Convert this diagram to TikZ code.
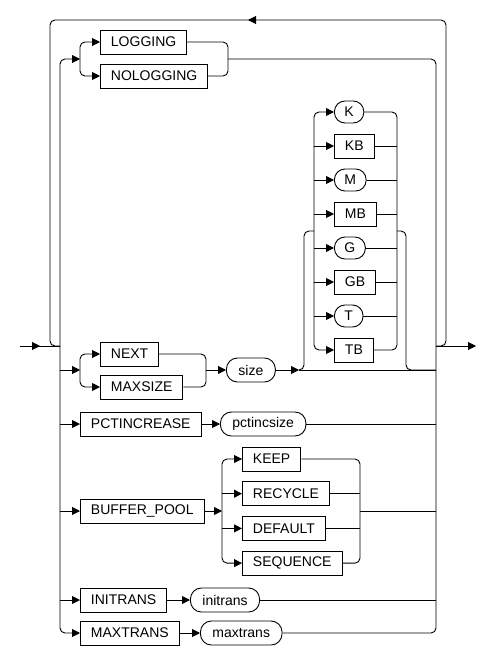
\documentclass[tikz,border=0pt]{standalone}
\usepackage{fontspec}
\setmainfont{Liberation Sans}
\usetikzlibrary{positioning,arrows.meta,decorations.markings}

\begin{document}
\begin{tikzpicture}[x=1pt,y=-1pt,line width=0.9pt,font=\fontsize{14}{16}\selectfont,
  kw/.style={draw,minimum height=24pt,inner xsep=10.5pt,inner ysep=0pt,anchor=west},
  vr/.style={kw,rounded corners=11pt,inner xsep=12pt},
  unitbox/.style={kw,rounded corners=10.5pt,minimum height=22pt,inner xsep=10pt},
  rail/.style={rounded corners=5pt},
  into/.style={-{Triangle[length=8pt,width=8pt]}},
  midarr/.style={postaction={decorate},decoration={markings,
    mark=at position .5 with {\arrow{Triangle[length=8pt,width=8pt]}}}}]
  \useasboundingbox (0,0) rectangle (476,655);
  \coordinate (start) at (20,346);  \coordinate (finish) at (476,346);
  \coordinate (jl) at (60,346);     \coordinate (jr) at (436,346);
  \coordinate (loopL) at (50,20);   \coordinate (loopR) at (446,20);

  \node[kw] (log) at (100,42) {LOGGING};
  \node[kw] (nolog) at (100,76) {NOLOGGING};
  \coordinate (logL) at (80,59);    \coordinate (logR) at (228,59);

  \node[kw] (next) at (100,354) {NEXT};
  \node[kw] (maxsize) at (100,387) {MAXSIZE};
  \coordinate (nxL) at (80,370);    \coordinate (nxR) at (206,370);
  \node[vr] (size) at (226,370) {size};
  \coordinate (szJ) at (299,370);

  \foreach \n/\t/\s [count=\i from 0] in {k/K/unitbox,kb/KB/kw,m/M/unitbox,mb/MB/kw,
    g/G/unitbox,gb/GB/kw,t/T/unitbox,tb/TB/kw}
    \node[\s] (\n) at (334,112+34*\i) {\t};
  \coordinate (uL) at (314,231);    \coordinate (uR) at (397,231);
  \coordinate (uLo) at (304,231);   \coordinate (uRo) at (406,231);

  \node[kw] (pct) at (80,424) {PCTINCREASE};
  \node[vr] (pctsz) at (220,424) {pctincsize};

  \node[kw] (bp) at (80,511) {BUFFER\_POOL};
  \coordinate (bpL) at (222,511);   \coordinate (bpR) at (360,511);
  \foreach \n/\t [count=\i from 0] in {keep/KEEP,recycle/RECYCLE,default/DEFAULT,seq/SEQUENCE}
    \node[kw] (\n) at (242,459+34.7*\i) {\t};

  \node[kw] (ini) at (80,600) {INITRANS};
  \node[vr] (inisz) at (190,600) {initrans};
  \node[kw] (maxt) at (80,633) {MAXTRANS};
  \node[vr] (maxtsz) at (200,633) {maxtrans};

  \draw[midarr] (start) -- (jl);
  \draw[into] (jr) -- (finish);
  \draw[rail,midarr] (jr) -| (loopR) -| (loopL |- jl) -- (jl);

  \draw[rail,into] (jl) |- (logL);
  \draw[rail,into] (logL) |- (log.west);
  \draw[rail,into] (logL) |- (nolog.west);
  \draw[rail] (log.east) -| (logR);
  \draw[rail] (nolog.east) -| (logR);
  \draw[rail] (logR) -| (jr);

  \draw[into] (jl |- nxL) -- (nxL);
  \draw[rail,into] (nxL) |- (next.west);
  \draw[rail,into] (nxL) |- (maxsize.west);
  \draw[rail] (next.east) -| (nxR);
  \draw[rail] (maxsize.east) -| (nxR);
  \draw[into] (nxR) -- (size.west);
  \draw[into] (size.east) -- (szJ);
  \draw (szJ) -- (jr |- szJ);
  \draw[rail] (szJ) -| (uLo) -- (uL);
  \draw[rail] (uR) -- (uRo) |- (jr |- szJ);
  \draw[rail,into] (uL) |- (k.west);
  \draw[rail,into] (uL) |- (tb.west);
  \draw[rail] (k.east) -| (uR);
  \draw[rail] (tb.east) -| (uR);
  \foreach \n in {kb,m,mb,g,gb,t}{
    \draw[into] (uL |- \n.west) -- (\n.west);
    \draw (\n.east) -- (uR |- \n.east);}

  \draw[into] (jl |- pct.west) -- (pct.west);
  \draw[into] (pct) -- (pctsz);
  \draw (pctsz) -- (jr |- pctsz);

  \draw[into] (jl |- bp.west) -- (bp.west);
  \draw[into] (bp) -- (bpL);
  \draw[rail,into] (bpL) |- (keep.west);
  \draw[rail,into] (bpL) |- (seq.west);
  \draw[rail] (keep.east) -| (bpR);
  \draw[rail] (seq.east) -| (bpR);
  \foreach \n in {recycle,default}{
    \draw[into] (bpL |- \n.west) -- (\n.west);
    \draw (\n.east) -- (bpR |- \n.east);}
  \draw (bpR) -- (jr |- bpR);

  \draw[into] (jl |- ini.west) -- (ini.west);
  \draw[into] (ini) -- (inisz);
  \draw (inisz) -- (jr |- inisz);
  \draw[rail,into] (jl) |- (maxt.west);
  \draw[into] (maxt) -- (maxtsz);
  \draw[rail] (maxtsz) -| (jr);
\end{tikzpicture}
\end{document}
